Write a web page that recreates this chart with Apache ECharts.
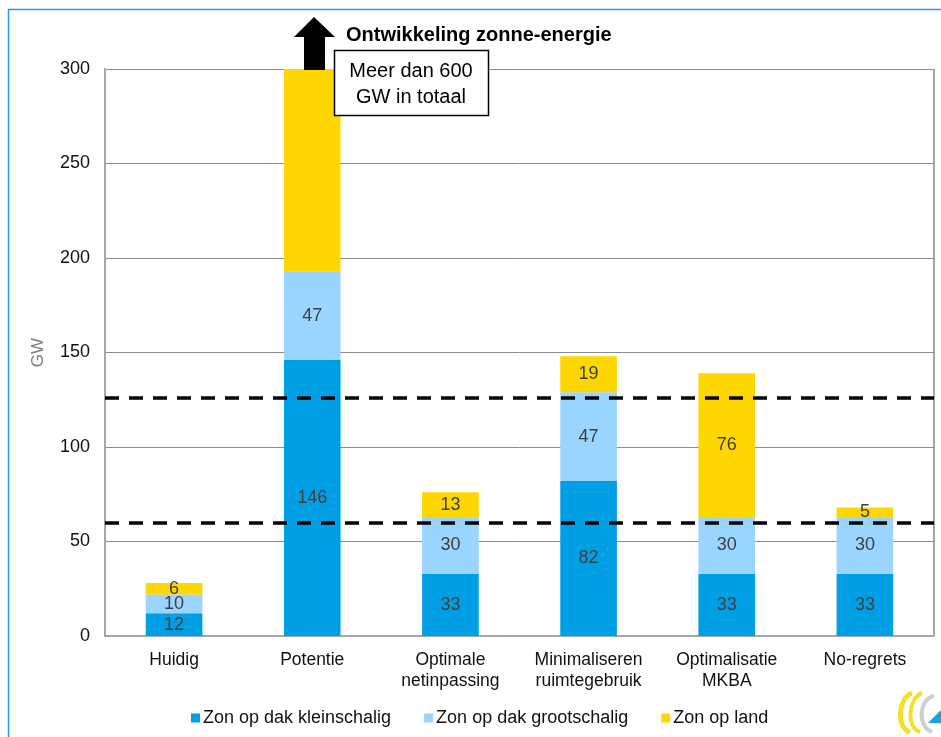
<!DOCTYPE html>
<html>
<head>
<meta charset="utf-8">
<title>Ontwikkeling zonne-energie</title>
<script src="https://cdn.jsdelivr.net/npm/echarts@6/dist/echarts.min.js"></script>
<style>
  html, body { margin: 0; padding: 0; background: #fff; }
  #chart { width: 941px; height: 737px; }
</style>
</head>
<body>
<div id="chart"></div>
<script>
const categories = ["Huidig", "Potentie", "Optimale\nnetinpassing", "Minimaliseren\nruimtegebruik", "Optimalisatie\nMKBA", "No-regrets"];
const kleinschalig = [12, 146, 33, 82, 33, 33];
const grootschalig = [10, 47, 30, 47, 30, 30];
const opLand = [6, 107, 13, 19, 76, 5];
// Potentie's yellow bar runs off the top of the axis, so it has no label
const hiddenLabel = [false, true, false, false, false, false];
const refLines = [126, 60];

const chart = echarts.init(document.getElementById("chart"));

const labelStyle = {
  show: true,
  position: "inside",
  color: "#404040",
  fontSize: 18,
  fontFamily: "Liberation Sans, Arial, sans-serif",
};

chart.setOption({
  animation: false,
  textStyle: { fontFamily: "Liberation Sans, Arial, sans-serif" },
  grid: { left: 105, right: 7, top: 69, bottom: 101 },
  legend: {
    left: 186,
    top: 704,
    itemWidth: 9,
    itemHeight: 9,
    itemGap: 33,
    icon: "rect",
    textStyle: { fontSize: 18, color: "#111", padding: [0, 0, 0, -2] },
    data: ["Zon op dak kleinschalig", "Zon op dak grootschalig", "Zon op land"],
  },
  xAxis: {
    type: "category",
    data: categories,
    axisTick: { show: false },
    axisLine: { lineStyle: { color: "#a6a6a6", width: 2 } },
    axisLabel: { color: "#111", fontSize: 17.5, lineHeight: 21, margin: 14, interval: 0, hideOverlap: false },
  },
  yAxis: {
    type: "value",
    min: 0,
    max: 300,
    interval: 50,
    name: "GW",
    nameLocation: "middle",
    nameGap: 58,
    nameTextStyle: { color: "#808080", fontSize: 17 },
    axisLine: { show: true, lineStyle: { color: "#a6a6a6", width: 2 } },
    axisTick: { show: false },
    axisLabel: { color: "#111", fontSize: 18, margin: 15 },
    splitLine: { lineStyle: { color: "#8c8c8c", width: 1 } },
  },
  series: [
    {
      name: "Zon op dak kleinschalig",
      type: "bar",
      stack: "zon",
      barWidth: "41%",
      itemStyle: { color: "#009fe3" },
      label: labelStyle,
      data: kleinschalig,
      markLine: {
        silent: true,
        symbol: "none",
        label: { show: false },
        lineStyle: { color: "#000", type: [14, 10], width: 3.5 },
        data: refLines.map((v) => ({ yAxis: v })),
      },
      z: 2,
    },
    {
      name: "Zon op dak grootschalig",
      type: "bar",
      stack: "zon",
      itemStyle: { color: "#99d5ff" },
      label: labelStyle,
      data: grootschalig,
      z: 2,
    },
    {
      name: "Zon op land",
      type: "bar",
      stack: "zon",
      itemStyle: { color: "#ffd700" },
      label: labelStyle,
      data: opLand.map((v, i) => ({ value: v, label: { show: !hiddenLabel[i] } })),
      z: 2,
    },
  ],
  graphic: [
    // outer frame (blue lines at top and left)
    { type: "line", shape: { x1: 8, y1: 9.5, x2: 941, y2: 9.5 }, style: { stroke: "#1ba1e2", lineWidth: 1.5 } },
    { type: "line", shape: { x1: 8.5, y1: 9, x2: 8.5, y2: 737 }, style: { stroke: "#1ba1e2", lineWidth: 1.5 } },
    // right border of the plot
    { type: "line", shape: { x1: 934, y1: 69, x2: 934, y2: 636 }, style: { stroke: "#a6a6a6", lineWidth: 2 } },
    // arrow above Potentie
    {
      type: "polygon",
      shape: { points: [[304, 70], [304, 37], [294, 37], [314, 17], [335, 37], [325, 37], [325, 70]] },
      style: { fill: "#000" },
      z: 10,
    },
    {
      type: "text",
      left: 346,
      top: 25,
      style: { text: "Ontwikkeling zonne-energie", fontSize: 20, fontWeight: "bold", fill: "#000", fontFamily: "Liberation Sans, Arial, sans-serif" },
      z: 10,
    },
    {
      type: "rect",
      shape: { x: 334.5, y: 50.5, width: 154, height: 65 },
      style: { fill: "#fff", stroke: "#000", lineWidth: 1.5 },
      z: 10,
    },
    {
      type: "text",
      x: 411,
      y: 84,
      style: {
        text: "Meer dan 600\nGW in totaal",
        fontSize: 20,
        lineHeight: 26,
        align: "center",
        verticalAlign: "middle",
        fill: "#000",
        fontFamily: "Liberation Sans, Arial, sans-serif",
      },
      z: 11,
    },
    // small logo, bottom right
    { type: "bezierCurve", shape: { x1: 912, y1: 693, cpx1: 898, cpy1: 698, cpx2: 896, cpy2: 728, x2: 910, y2: 732 }, style: { fill: "none", stroke: "#f2e12a", lineWidth: 5 }, z: 5 },
    { type: "bezierCurve", shape: { x1: 922, y1: 693, cpx1: 908, cpy1: 698, cpx2: 906, cpy2: 728, x2: 920, y2: 732 }, style: { fill: "none", stroke: "#f2e12a", lineWidth: 4 }, z: 5 },
    { type: "bezierCurve", shape: { x1: 934, y1: 696, cpx1: 920, cpy1: 698, cpx2: 916, cpy2: 726, x2: 932, y2: 732 }, style: { fill: "none", stroke: "#cfcfcf", lineWidth: 4 }, z: 4 },
    { type: "polygon", shape: { points: [[928, 723], [941, 710], [941, 723]] }, style: { fill: "#1ba1e2" }, z: 6 },
  ],
});
</script>
</body>
</html>
